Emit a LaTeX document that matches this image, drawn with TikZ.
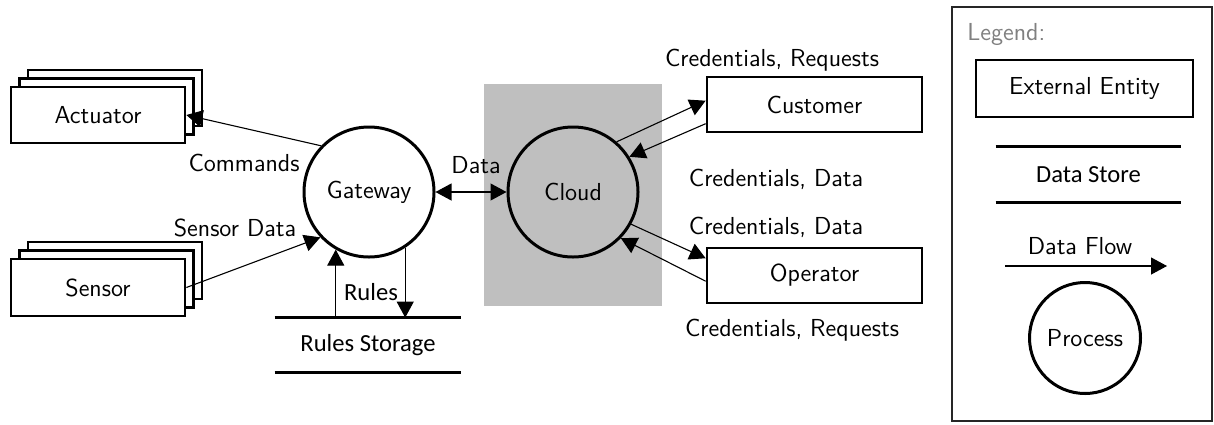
\documentclass[tikz,border=0pt]{standalone}
\usepackage{fontspec}
\newfontfamily\carlito{Carlito}
\usetikzlibrary{arrows.meta}
\definecolor{cloudgray}{HTML}{BFBFBF}
\begin{document}
\begin{tikzpicture}[x=0.5pt,y=-0.5pt,
  every node/.style={font=\sffamily\fontsize{12.3}{14}\selectfont},
  entity/.style={draw, line width=1.35pt, fill=white, minimum width=87pt,
                 minimum height=28pt, inner sep=0pt},
  proc/.style={circle, draw, line width=1.5pt, minimum size=65pt, inner sep=0pt},
  flow/.style={line width=0.55pt, -{Triangle[length=8pt,width=8.5pt]}},
  storefont/.style={font=\carlito\fontsize{12.3}{14}\selectfont},
  store/.style={storefont, minimum width=93pt, minimum height=27pt, inner sep=0pt},
  storeline/.style={line width=1.3pt},
  lbl/.style={inner sep=0pt}
]
\useasboundingbox (0,0) rectangle (1214,424);
\fill[white] (0,0) rectangle (1214,424);

% cloud region
\fill[cloudgray] (484,84) rectangle (662,306);

% stacked external entities
\node[entity] (act3) at (115,98) {};
\node[entity] (act2) at (106.5,106.5) {};
\node[entity] (act)  at (98,115) {Actuator};
\node[entity, minimum height=28.5pt] (sen3) at (115,270.5) {};
\node[entity, minimum height=28.5pt] (sen2) at (106.5,279) {};
\node[entity, minimum height=28.5pt] (sen)  at (98,287.5) {Sensor};

% processes
\node[proc] (gw) at (369,192) {Gateway};
\node[proc] (cl) at (573,192) {Cloud};

% single external entities
\node[entity, minimum width=107.5pt, minimum height=27.5pt] (cu) at (814.5,104.5) {Customer};
\node[entity, minimum width=107.5pt, minimum height=27.5pt] (op) at (814.5,275.5) {Operator};

% data store
\node[store] (st) at (368,345) {Rules Storage};
\draw[storeline] (st.north west) -- (st.north east) (st.south west) -- (st.south east);

% flows around the gateway
\draw[flow] (gw.136.8) -- (act.east);
\node[lbl] (lcmd) at (244,163) {Commands};
\draw[flow] (sen.east) -- (gw.223.2);
\node[lbl] (lsen) at (235,228) {Sensor Data};
\draw[flow] (st.north -| gw.240.5) -- (gw.240.5);
\draw[flow] (gw.303.7) -- (gw.303.7 |- st.north);
\node[lbl, storefont] (lrul) at (371,292) {Rules};
\draw[flow, {Triangle[length=8pt,width=8.5pt]}-{Triangle[length=8pt,width=8.5pt]}] (gw.east) -- (cl.west);
\node[lbl] (ldat) at (476,165) {Data};

% flows around the cloud
\draw[flow] (cl.49) -- (cu.178.1);
\draw[flow] (cu.190.8) -- (cl.32.3);
\node[lbl] (lcr1) at (772,60) {Credentials, Requests};
\node[lbl] (lcd1) at (776,179) {Credentials, Data};
\draw[flow] (cl.331.2) -- (op.171.8);
\draw[flow] (op.183.5) -- (cl.316.2);
\node[lbl] (lcd2) at (776,227) {Credentials, Data};
\node[lbl] (lcr2) at (792,330) {Credentials, Requests};

% legend
\node[draw=black!85, line width=0.6pt, minimum width=130pt, minimum height=207pt,
      inner sep=0pt] (legend) at (1082,214) {};
\node[lbl, anchor=west, text=black!50] (lgt) at (967,34) {Legend:};
\node[entity, minimum width=108.5pt, minimum height=28.5pt] (ee) at (1084.5,88.5) {External Entity};
\node[store, minimum width=92.5pt, minimum height=27.5pt] (ds) at (1088.5,174.5) {Data Store};
\draw[storeline] (ds.north west) -- (ds.north east) (ds.south west) -- (ds.south east);
\node[lbl] (ldf) at (1080,246) {Data Flow};
\coordinate (df1) at (1005,266);
\coordinate (df2) at (1167,266);
\draw[flow] (df1) -- (df2);
\node[proc, minimum size=55.5pt] (pr) at (1085,338) {Process};
\end{tikzpicture}
\end{document}
